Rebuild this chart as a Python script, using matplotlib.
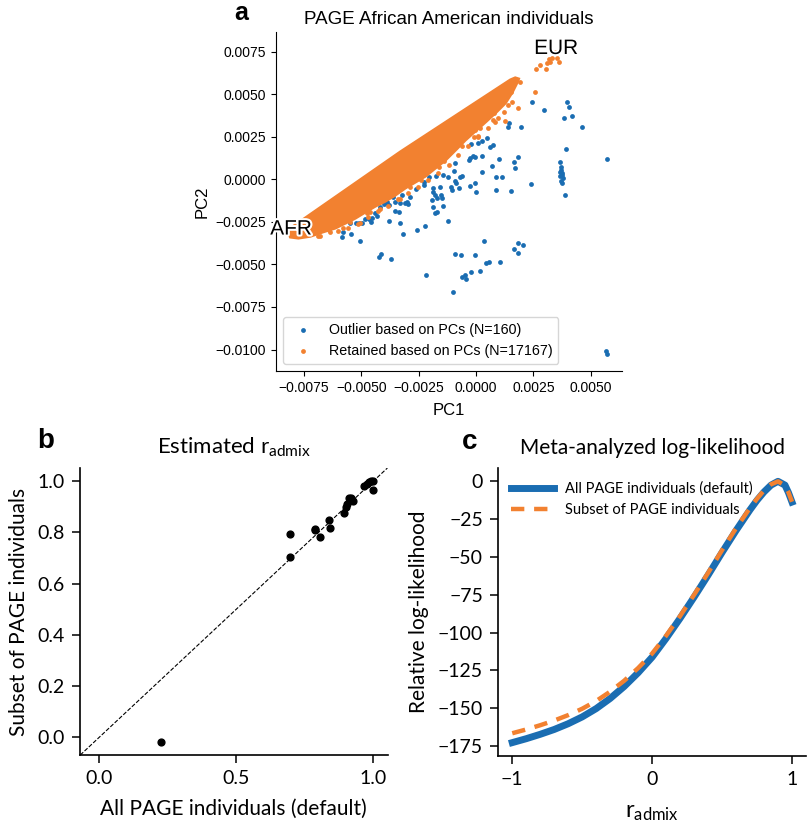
import numpy as np
import matplotlib
matplotlib.use("Agg")
import matplotlib.pyplot as plt
from matplotlib.ticker import MultipleLocator
import matplotlib.patheffects as pe

BLUE = '#1a6db2'
ORANGE = '#f28130'

# panel a: PC coordinates, stored in units of 1e-3
PC_UNIT = 1e-3
outlier_pc1 = [2.44, 2.97, 3.98, 4.04, 4.19, 3.85, 4.61, 1.95, 1.42, 1.38,
               0.48, 0.28, 0.07, -0.21, 0.59, 0.74, 3.93, 5.72, -0.15, -0.25,
               -0.06, 0.24, -0.31, 1.00, 1.83, 1.66, 0.68, 1.70, -0.92, -0.98,
               0.24, -1.43, -1.21, -0.69, -0.60, 0.87, 1.15, -0.04, -0.28, -1.11,
               -1.05, -0.73, -0.02, 0.89, 1.51, 2.40, -1.51, -1.48, -1.43, -1.21,
               3.68, 3.71, 3.72, 3.75, 3.68, 3.78, 3.72, 3.75, 3.65, 3.77,
               3.90, -1.56, -0.90, -0.86, 0.35, -0.92, -0.64, -0.06, 1.66, 1.82,
               2.06, 1.85, 1.03, 0.55, 0.44, 0.18, -0.24, -0.47, -0.60, -0.42,
               -0.99, 5.72, 5.69, -2.17, -4.25, -4.15, -3.70, -5.05, -5.44, -5.85,
               -5.82, -3.17, -2.57, -2.21, -3.81, -3.30, -4.97, -5.12, -5.22, -4.57,
               -4.66, -4.52, -4.42, -3.52, -2.98, -3.09, -3.96, -3.88, -4.03, -3.81,
               -3.30, -3.23, -3.61, -3.52, -2.90, -2.62, -2.29, -2.29, -2.05, -1.75,
               -1.88, -1.81, -1.70, -1.92, -1.88, -1.70, -1.78, -1.89, -3.38, -3.01,
               -4.83, -4.32, -4.18, -5.48]
outlier_pc2 = [4.56, 4.08, 4.53, 4.27, 3.74, 3.61, 3.09, 3.09, 3.33, 3.09,
               2.45, 2.25, 2.12, 2.08, 1.88, 2.02, 1.77, 1.21, 1.37, 1.24,
               1.33, 1.39, 1.14, 1.19, 1.29, 1.04, 0.80, 0.68, 0.94, 0.51,
               0.45, 0.25, 0.12, 0.15, 0.21, 0.12, 0.12, -0.20, -0.39, -0.44,
               -0.63, -0.53, -0.77, -0.61, -0.71, -0.28, -0.92, -1.12, -1.57, -2.47,
               1.04, 0.74, 0.55, 0.35, 0.19, 0.06, -0.08, -0.24, 0.45, 0.25,
               -0.94, -0.44, -0.10, -0.24, -3.61, -4.41, -4.47, -4.47, -4.08, -3.73,
               -3.86, -4.32, -4.86, -4.85, -4.92, -5.41, -5.47, -5.63, -5.73, -5.88,
               -6.63, -10.24, -10.07, -5.63, -4.59, -4.41, -4.71, -3.61, -3.20, -3.38,
               -3.12, -3.20, -3.00, -2.75, -2.45, -2.55, -2.55, -2.59, -2.59, -2.49,
               -2.32, -2.29, -2.00, -1.87, -1.47, -1.38, -1.41, -1.34, -1.47, -1.51,
               -1.41, -0.92, -1.02, -1.32, -1.02, -0.59, -0.34, -0.14, 0.12, 0.21,
               -0.53, -0.92, -1.12, -1.22, -1.61, -1.91, -2.00, -0.77, -1.91, -1.32,
               -2.35, -2.16, -1.61, -2.55]

# outline of the dense cloud of retained individuals (upper edge, then lower edge back)
retained_hull_pc1 = [-8.19, -8.02, -3.30, 1.50, 1.71, 1.85,
                     1.80, 1.58, 1.28, 0.84, 0.41, -0.03, -0.47, -0.90, -1.34, -1.78,
                     -2.21, -2.65, -3.09, -3.52, -3.96, -4.39, -4.83, -5.27, -5.70,
                     -6.14, -6.71, -7.23, -7.75, -8.10]
retained_hull_pc2 = [-3.10, -2.81, 1.61, 5.84, 5.96, 5.90,
                     5.72, 5.13, 4.49, 3.90, 3.37, 2.84, 2.31, 1.72, 1.13, 0.66,
                     0.19, -0.16, -0.51, -0.92, -1.28, -1.57, -1.92, -2.28, -2.57,
                     -2.86, -3.10, -3.34, -3.45, -3.39]
# scattered retained individuals outside the dense cloud
retained_pc1 = [1.90, 2.56, 2.62, 2.81, 3.07, 3.10, 3.17, 3.32, 3.53, 3.60,
                3.46, 3.24, 1.54, 1.57, 1.82, 0.99, 0.72, 0.84, 0.31, 0.19,
                -0.03, -0.42, -0.69, -0.90, -1.34, -1.41, -1.20, 1.20, 0.77, 1.28,
                -0.11, -0.98, -1.85, -6.36, -5.48, -4.61, -4.03, -2.87, -2.57, -3.67,
                -3.09, -6.43, -5.05, -4.76, -2.40, -1.60, -0.60, 0.10, -3.30, -4.20,
                -5.80, -6.90,
                -6.79, -6.01, -5.57, -5.13, -4.70, -4.26, -3.83, -3.39, -2.95, -2.52,
                -2.08, -1.64, -1.20, -0.77, -0.34, 0.10, 0.54, 0.97, 1.41]
retained_pc2 = [5.74, 5.15, 6.49, 6.72, 6.47, 6.82, 7.08, 7.12, 7.12, 6.92,
                7.51, 6.92, 5.12, 4.56, 4.18, 4.56, 3.49, 3.39, 3.59, 3.00,
                2.90, 2.71, 2.31, 1.92, 1.53, 1.08, 2.31, 3.98, 3.88, 3.45,
                2.51, 2.21, 1.14, -3.08, -2.49, -1.91, -1.12, -0.44, 0.15, -0.92,
                -0.04, -2.98, -2.59, -2.00, -0.05, 0.75, 1.95, 2.55, -1.15, -1.75,
                -2.85, -3.35,
                -3.34, -3.04, -2.86, -2.63, -2.22, -1.86, -1.57, -1.16, -0.81, -0.45,
                -0.04, 0.37, 0.84, 1.43, 1.96, 2.49, 3.02, 3.60, 4.37]

# panel b: estimated r_admix
r_all = [0.225, 0.695, 0.695, 0.786, 0.788, 0.805, 0.838, 0.843, 0.894, 0.900, 0.903,
         0.910, 0.917, 0.922, 0.927, 0.966, 0.976, 0.985, 0.990, 0.998, 1.000]
r_subset = [-0.020, 0.793, 0.702, 0.815, 0.809, 0.783, 0.850, 0.818, 0.876, 0.897, 0.909,
            0.935, 0.935, 0.928, 0.922, 0.980, 0.988, 0.997, 1.000, 1.001, 0.965]

# panel c: meta-analyzed log-likelihood
r_grid = [-1.0, -0.9, -0.8, -0.7, -0.6, -0.5, -0.4, -0.3, -0.2, -0.1, 0.0,
          0.1, 0.2, 0.3, 0.4, 0.5, 0.6, 0.7, 0.75, 0.8, 0.85, 0.9, 0.95, 0.975, 1.0]
ll_all = [-172.7, -170.1, -167.2, -164.0, -160.2, -155.7, -150.2, -143.5, -135.6, -126.5, -116.2,
          -103.8, -90.5, -76.5, -62.0, -47.0, -32.5, -18.8, -12.5, -7.0, -2.5, 0.0, -2.5, -7.5, -13.7]
ll_subset = [-166.5, -164.0, -161.2, -158.1, -154.5, -150.3, -145.2, -139.0, -131.8, -123.4, -113.8,
             -102.0, -89.0, -75.0, -60.5, -45.5, -31.0, -17.5, -11.5, -6.0, -2.0, 0.0, -2.8, -7.3, -13.5]

fig = plt.figure(figsize=(8.11, 8.24), dpi=100)

# ---------------- panel a ----------------
plt.rcParams['font.family'] = ['Liberation Sans', 'DejaVu Sans']
ax = fig.add_axes([0.3403, 0.5498, 0.4267, 0.4114])
ox = np.array(outlier_pc1) * PC_UNIT
oy = np.array(outlier_pc2) * PC_UNIT
ax.scatter(ox, oy, s=12, color=BLUE, linewidths=0, label='Outlier based on PCs (N=160)')
ax.fill(np.array(retained_hull_pc1) * PC_UNIT, np.array(retained_hull_pc2) * PC_UNIT,
        facecolor=ORANGE, edgecolor=ORANGE, linewidth=2.2)
ax.scatter(np.array(retained_pc1) * PC_UNIT, np.array(retained_pc2) * PC_UNIT, s=12,
           color=ORANGE, linewidths=0, label='Retained based on PCs (N=17167)')
halo = [pe.withStroke(linewidth=3, foreground='white')]
ax.text(3.50e-3, 7.69e-3, 'EUR', fontsize=15, ha='center', va='center', path_effects=halo)
ax.text(-8.07e-3, -2.92e-3, 'AFR', fontsize=15, ha='center', va='center', path_effects=halo)
ax.set_xlim(-0.00873, 0.00637)
ax.set_ylim(-0.01126, 0.00866)
ax.xaxis.set_major_locator(MultipleLocator(0.0025))
ax.yaxis.set_major_locator(MultipleLocator(0.0025))
ax.tick_params(labelsize=10)
ax.set_xlabel('PC1', fontsize=12, labelpad=6)
ax.set_ylabel('PC2', fontsize=12)
ax.set_title('PAGE African American individuals', fontsize=13.5)
ax.spines[['top', 'right']].set_visible(False)
ax.legend(loc='lower left', fontsize=10.3)
fig.text(241 / 811, 1 - 13 / 824, 'a', fontsize=18, fontweight='bold', ha='center', va='center')

# ---------------- panels b and c ----------------
bc_font = ['Lato', 'DejaVu Sans']
plt.rcParams['mathtext.fontset'] = 'custom'
plt.rcParams['mathtext.rm'] = 'Lato'
plt.rcParams['mathtext.it'] = 'Lato:italic'

axb = fig.add_axes([0.0986, 0.0837, 0.3794, 0.3483])
axb.scatter(r_all, r_subset, s=24, color='black', zorder=3)
axb.axline((0, 0), slope=1, color='black', linestyle='--', linewidth=0.8)
axb.set_xlim(-0.07, 1.052)
axb.set_ylim(-0.069, 1.051)
axb.set_xticks([0.0, 0.5, 1.0])
axb.set_yticks([0.0, 0.2, 0.4, 0.6, 0.8, 1.0])
axb.set_xlabel('All PAGE individuals (default)', fontsize=15, family=bc_font, labelpad=8)
axb.set_ylabel('Subset of PAGE individuals', fontsize=15, family=bc_font, labelpad=6)
axb.set_title(r'Estimated r$_{\mathrm{admix}}$', fontsize=16, family=bc_font, pad=10)
axb.spines[['top', 'right']].set_visible(False)
axb.spines[['left', 'bottom']].set_linewidth(1.2)
axb.tick_params(length=6, width=1.1, pad=5)
for lab in axb.get_xticklabels() + axb.get_yticklabels():
    lab.set_family(bc_font)
    lab.set_fontsize(14)
fig.text(46 / 811, 1 - 441 / 824, 'b', fontsize=20, fontweight='bold', ha='center', va='center',
         family=['Liberation Sans'])

axc = fig.add_axes([0.6144, 0.0829, 0.3794, 0.3488])
axc.plot(r_grid, ll_all, color=BLUE, linewidth=5, label='All PAGE individuals (default)')
axc.plot(r_grid, ll_subset, color=ORANGE, linewidth=3.2, linestyle=(0, (3, 2.2)),
         label='Subset of PAGE individuals')
axc.set_xticks([-1, 0, 1])
axc.set_yticks([0, -25, -50, -75, -100, -125, -150, -175])
axc.set_xlabel(r'r$_{\mathrm{admix}}$', fontsize=17, family=bc_font, labelpad=10)
axc.set_ylabel('Relative log-likelihood', fontsize=15, family=bc_font, labelpad=6)
axc.set_title('Meta-analyzed log-likelihood', fontsize=15, family=bc_font, pad=10)
axc.spines[['top', 'right']].set_visible(False)
axc.spines[['left', 'bottom']].set_linewidth(1.2)
axc.tick_params(length=6, width=1.1, pad=5)
for lab in axc.get_xticklabels() + axc.get_yticklabels():
    lab.set_family(bc_font)
    lab.set_fontsize(14)
axc.legend(loc='upper left', frameon=False, handlelength=2.9, prop={'family': bc_font, 'size': 10.5})
fig.text(470 / 811, 1 - 442 / 824, 'c', fontsize=20, fontweight='bold', ha='center', va='center',
         family=['Liberation Sans'])

fig.savefig('out.png', dpi=100)
